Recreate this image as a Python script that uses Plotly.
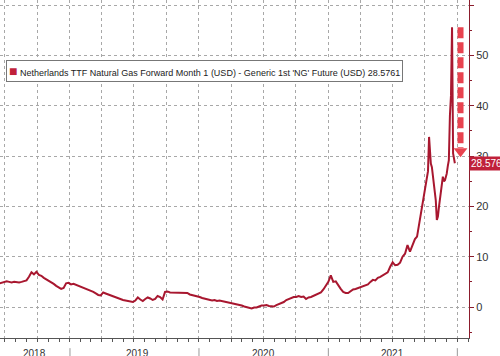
import pandas as pd
import plotly.graph_objects as go

SERIES_NAME = "Netherlands TTF Natural Gas Forward Month 1 (USD) - Generic 1st 'NG' Future (USD) 28.5761"

# weekly readings 2018-06-15 .. 2021-09-03
weekly_start = "2018-06-15"
weekly_values = [
    4.7, 4.8, 4.9, 5.1, 5.0, 4.9, 5.0, 4.9, 4.9, 5.0,
    5.1, 5.3, 6.0, 6.9, 6.5, 7.0, 6.4, 6.2, 5.8, 5.5,
    5.3, 5.0, 4.6, 4.2, 3.9, 3.6, 3.8, 4.7, 4.8, 4.5,
    4.6, 4.4, 4.3, 4.1, 3.9, 3.7, 3.5, 3.3, 3.0, 2.7,
    2.4, 2.3, 2.9, 2.7, 2.5, 2.4, 2.2, 1.9, 1.7, 1.5,
    1.4, 1.3, 1.2, 1.1, 1.0, 1.3, 1.9, 1.5, 1.2, 1.6,
    1.9, 1.7, 1.4, 1.6, 2.2, 2.0, 1.5, 3.0, 3.1, 2.9,
    2.9, 2.8, 2.9, 2.8, 2.9, 2.8, 2.8, 2.5, 2.4, 2.3,
    2.1, 2.0, 1.8, 1.7, 1.6, 1.4, 1.3, 1.4, 1.2, 1.3,
    1.2, 1.1, 1.0, 0.9, 0.8, 0.6, 0.5, 0.4, 0.3, 0.1,
    0.0, -0.2, -0.3, -0.1, -0.1, 0.1, 0.3, 0.3, 0.4, 0.2,
    0.1, 0.1, 0.4, 0.6, 0.7, 1.0, 1.4, 1.6, 1.9, 2.0,
    2.0, 2.2, 2.0, 2.1, 1.6, 1.9, 2.0, 2.2, 2.4, 2.6,
    2.9, 3.5, 4.3, 5.0, 6.3, 5.0, 5.1, 4.3, 3.6, 3.0,
    2.8, 2.8, 3.2, 3.5, 3.6, 3.8, 3.9, 4.2, 4.3, 4.5,
    5.0, 5.4, 5.3, 5.8, 6.0, 6.3, 6.5, 6.9, 8.0, 8.9,
    8.3, 8.4, 8.8, 10.0, 10.6, 12.3, 11.0, 12.4, 13.5,
]

# finer readings for the final months
tail_dates = [
    "2021-09-09", "2021-09-14", "2021-09-17", "2021-09-21", "2021-09-25",
    "2021-10-01", "2021-10-04", "2021-10-07", "2021-10-10", "2021-10-13",
    "2021-10-16", "2021-10-18", "2021-10-21", "2021-10-24", "2021-10-27",
    "2021-10-30", "2021-11-01", "2021-11-04", "2021-11-07", "2021-11-10",
    "2021-11-13", "2021-11-16", "2021-11-18", "2021-11-21", "2021-11-24",
    "2021-11-27", "2021-11-30", "2021-12-02", "2021-12-05", "2021-12-08",
    "2021-12-11", "2021-12-14", "2021-12-17", "2021-12-20", "2021-12-25",
]
tail_values = [
    14.0, 16.0, 17.6, 19.0, 20.5,
    23.0, 24.0, 25.6, 27.0, 33.8,
    29.2, 28.5, 27.8, 26.0, 24.6,
    23.5, 21.2, 17.3, 18.0, 19.9,
    21.5, 23.2, 24.5, 25.9, 25.0,
    25.2, 26.0, 26.5, 28.0, 29.2,
    38.0, 42.0, 55.6, 30.5, 28.576,
]

year_labels = ["2018", "2019", "2020", "2021"]
year_label_dates = ["2018-09-24", "2019-07-10", "2020-07-02", "2021-07-02"]
year_bounds = ["2019-01-01", "2020-01-01", "2021-01-01", "2022-01-01"]
x_range = ["2018-06-17", "2022-02-03"]
y_range = [-6.15, 61.0]
arrow_date = "2022-01-10"
last_label = "28.576"

weekly_dates = list(pd.date_range(weekly_start, periods=len(weekly_values), freq="7D"))
dates = weekly_dates + list(pd.to_datetime(tail_dates))
values = weekly_values + tail_values

LINE = "#a8172f"
AXIS_RED = "#8b1c2c"
GRID = "#a8a8a8"
FONT = "Liberation Sans, Arial, sans-serif"

fig = go.Figure()
fig.add_trace(go.Scatter(x=dates, y=values, mode="lines",
                         line=dict(color=LINE, width=2), name=SERIES_NAME,
                         showlegend=False, hoverinfo="skip"))

# dashed arrow from the peak down to the last value
peak = max(values)
last = values[-1]
fig.add_shape(type="line", xref="x", yref="y", x0=arrow_date, x1=arrow_date,
              y0=peak, y1=last + 3.0,
              line=dict(color="#e8434f", width=6, dash="11px,4px"))
fig.add_trace(go.Scatter(x=[arrow_date], y=[last + 2.4], mode="markers",
                         marker=dict(symbol="triangle-down", size=12, color="#e8434f",
                                     line=dict(width=0)),
                         showlegend=False, hoverinfo="skip"))

# year separators & labels
for b in year_bounds:
    fig.add_shape(type="line", xref="x", yref="paper", x0=b, x1=b, y0=-0.03, y1=-0.07,
                  line=dict(color="#999999", width=1))
for lab, d in zip(year_labels, year_label_dates):
    fig.add_annotation(x=d, y=-0.045, xref="x", yref="paper", text=lab, showarrow=False,
                       yanchor="middle", font=dict(family=FONT, size=10, color="#333333"))

# legend box
fig.add_annotation(xref="paper", yref="paper", x=0.012, y=0.79, xanchor="left", yanchor="middle",
                   text="<span style='color:%s;font-size:14px'>■</span> %s" % ("#c0213a", SERIES_NAME),
                   showarrow=False, align="left",
                   font=dict(family=FONT, size=9, color="#222222"),
                   bgcolor="white", bordercolor="#777777", borderwidth=1, borderpad=2)

# last value label
fig.add_annotation(xref="paper", yref="y", x=1.0, y=last, xanchor="left", yanchor="middle",
                   text=last_label, showarrow=False,
                   font=dict(family=FONT, size=10, color="white"),
                   bgcolor="#c0213a", borderpad=1)

fig.update_xaxes(range=x_range, type="date", showticklabels=False,
                 ticks="outside", ticklen=3, tickcolor="#555555", dtick="M3", tick0="2018-01-01",
                 showgrid=True, gridcolor=GRID, griddash="dot", gridwidth=1,
                 minor=dict(dtick="M1", ticks="outside", ticklen=3, tickcolor="#555555", showgrid=False),
                 showline=True, linecolor="#555555", linewidth=1, zeroline=False)
fig.update_yaxes(range=y_range, side="right", dtick=10, tick0=0,
                 ticks="outside", ticklen=4, tickcolor=AXIS_RED,
                 tickfont=dict(family=FONT, size=11, color="#333333"),
                 minor=dict(dtick=5, ticks="outside", ticklen=2, tickcolor=AXIS_RED, showgrid=False),
                 showgrid=True, gridcolor=GRID, griddash="dot", gridwidth=1,
                 showline=True, linecolor=AXIS_RED, linewidth=1, zeroline=False)

fig.update_layout(width=500, height=356, margin=dict(l=0, r=31, t=0, b=18),
                  plot_bgcolor="white", paper_bgcolor="white", showlegend=False,
                  font=dict(family=FONT))

fig.write_html("out.html", config={"displayModeBar": False},
               post_script="document.body.style.margin='0';")
